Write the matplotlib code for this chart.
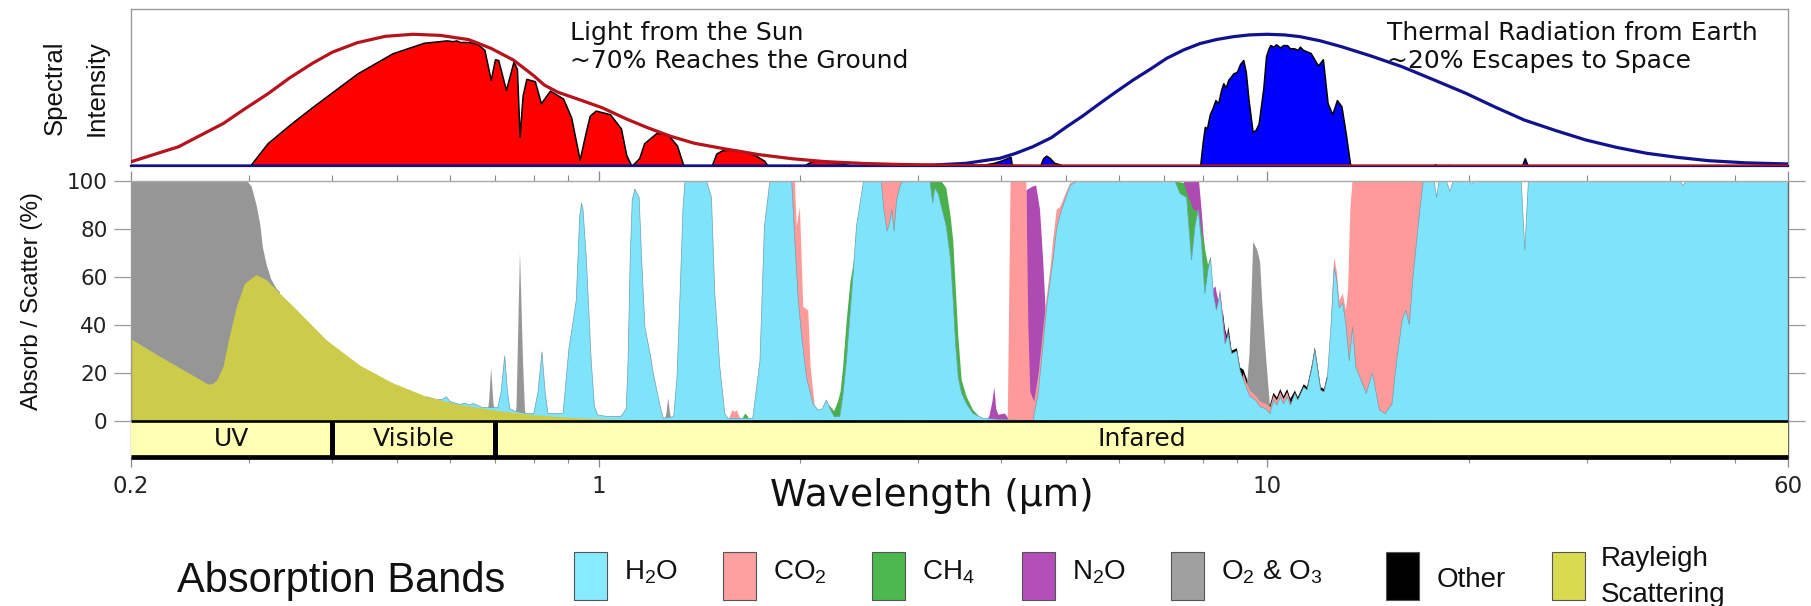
import numpy as np
import matplotlib
matplotlib.use("Agg")
import matplotlib.pyplot as plt
from matplotlib.patches import Rectangle
from matplotlib.ticker import NullFormatter, NullLocator
from matplotlib import font_manager

plt.rcParams['font.family'] = ['DejaVu Sans']

# ------------------------------------------------------------------ data
# Top panel: spectral intensity (normalised), wavelength in micrometres
sun_env_wl = [0.2, 0.2357, 0.25, 0.2746, 0.295, 0.3204, 0.345, 0.3735, 0.40, 0.4355, 0.48,
              0.5278, 0.58, 0.6396, 0.69, 0.7458, 0.80, 0.83, 0.8694, 0.94, 1.014, 1.10,
              1.182, 1.28, 1.39, 1.55, 1.74, 1.95, 2.18, 2.5, 2.8, 3.5, 4.5, 60]
sun_env = [0.027, 0.123, 0.18, 0.27, 0.36, 0.46, 0.56, 0.654, 0.725, 0.785, 0.826,
           0.839, 0.832, 0.805, 0.75, 0.675, 0.575, 0.515, 0.47, 0.42, 0.37, 0.30,
           0.245, 0.19, 0.145, 0.108, 0.072, 0.046, 0.028, 0.016, 0.01, 0.003, 0.0, 0.0]

earth_env_wl = [0.2, 2.5, 3.16, 3.54, 3.98, 4.2, 4.46, 4.75, 5.01, 5.3, 5.62, 5.95, 6.30, 6.7,
                7.07, 7.5, 7.93, 8.4, 8.9, 9.4, 9.98, 10.6, 11.18, 12.0, 12.9, 14.3, 15.9,
                17.7, 19.8, 21.9, 24.2, 27.0, 29.9, 33.3, 36.9, 41.0, 45.6, 52.0, 60]
earth_env = [0.0, 0.0, 0.006, 0.017, 0.049, 0.08, 0.123, 0.18, 0.25, 0.32, 0.40, 0.475, 0.548,
             0.62, 0.686, 0.74, 0.78, 0.806, 0.824, 0.835, 0.839, 0.835, 0.824, 0.797, 0.76,
             0.70, 0.632, 0.55, 0.463, 0.375, 0.293, 0.225, 0.166, 0.118, 0.081, 0.055,
             0.034, 0.02, 0.013]

sun_ground_wl = [0.301, 0.32, 0.347, 0.374, 0.436, 0.492, 0.548, 0.593, 0.605, 0.613, 0.62,
                 0.64, 0.66, 0.675, 0.69, 0.70, 0.708, 0.727, 0.746, 0.755, 0.762, 0.770,
                 0.78, 0.803, 0.82, 0.846, 0.885, 0.91, 0.937, 0.955, 0.97, 0.99, 1.04, 1.08,
                 1.10, 1.12, 1.15, 1.17, 1.22, 1.27, 1.31, 1.34]
sun_ground = [0, 0.145, 0.27, 0.378, 0.59, 0.718, 0.785, 0.80, 0.795, 0.80, 0.79,
              0.79, 0.775, 0.74, 0.548, 0.68, 0.675, 0.484, 0.664, 0.62, 0.187, 0.45,
              0.555, 0.54, 0.40, 0.48, 0.43, 0.31, 0.04, 0.20, 0.32, 0.353, 0.33, 0.24,
              0.07, 0.0, 0.05, 0.145, 0.21, 0.20, 0.13, 0.0]
sun_ground2_wl = [1.475, 1.50, 1.53, 1.58, 1.62, 1.66, 1.72, 1.77, 1.79]
sun_ground2 = [0, 0.08, 0.10, 0.105, 0.10, 0.09, 0.065, 0.033, 0.0]
sun_ground3_wl = [2.02, 2.06, 2.1, 2.12, 2.2, 2.3, 2.4]
sun_ground3 = [0, 0.02, 0.033, 0.036, 0.032, 0.018, 0.0]

earth_space_wl = [7.93, 8.0, 8.06, 8.12, 8.2, 8.28, 8.36, 8.44, 8.52, 8.59, 8.66, 8.74, 8.82,
                  8.89, 9.0, 9.1, 9.2, 9.28, 9.37, 9.5, 9.6, 9.7, 9.86, 9.95, 10.04, 10.1,
                  10.2, 10.3, 10.45, 10.55, 10.7, 10.8, 10.95, 11.1, 11.18, 11.3, 11.6, 11.9,
                  12.1, 12.3, 12.5, 12.7, 12.9, 13.1, 13.3]
earth_space = [0, 0.15, 0.25, 0.24, 0.33, 0.37, 0.42, 0.40, 0.48, 0.527, 0.50, 0.55, 0.57,
               0.59, 0.60, 0.65, 0.675, 0.60, 0.42, 0.218, 0.23, 0.27, 0.50, 0.70, 0.75, 0.77,
               0.76, 0.775, 0.755, 0.77, 0.77, 0.75, 0.75, 0.74, 0.76, 0.74, 0.72, 0.64,
               0.68, 0.40, 0.33, 0.42, 0.38, 0.20, 0.0]
earth_space2_wl = [3.62, 3.7, 3.8, 3.9, 4.0, 4.08, 4.13, 4.15]
earth_space2 = [0, 0.005, 0.012, 0.02, 0.035, 0.05, 0.058, 0.0]
earth_space3_wl = [4.57, 4.62, 4.67, 4.73, 4.8, 4.9, 4.95]
earth_space3 = [0, 0.05, 0.066, 0.05, 0.02, 0.01, 0.0]
earth_space4_wl = [17.7, 17.8, 17.9, 18.6, 18.7, 18.8, 24.0, 24.25, 24.5]
earth_space4 = [0, 0.012, 0, 0, 0.008, 0, 0, 0.05, 0]

# Bottom panel: cumulative absorption / scattering (%) -- each list is the top of the
# stack up to and including that constituent
ray_wl = [0.200, 0.221, 0.242, 0.254, 0.261, 0.265, 0.269, 0.275, 0.281, 0.288, 0.296, 0.308,
          0.319, 0.334, 0.350, 0.392, 0.440, 0.493, 0.553, 0.621, 0.712, 0.800, 0.900, 1.000,
          1.200]
ray_pct = [34, 26.7, 20.4, 17, 15, 15.3, 16.7, 22.5, 35, 47.5, 57, 60.7,
           58.6, 53, 47.5, 33.6, 23, 15.6, 10, 6.5, 4, 2.3, 1.3, 0.6, 0]

h2o_wl = [0.553, 0.575, 0.585, 0.592, 0.60, 0.621, 0.63, 0.64, 0.65, 0.67, 0.69, 0.707, 0.715,
          0.724, 0.731, 0.737, 0.75, 0.765, 0.78, 0.80, 0.812, 0.823, 0.832, 0.84, 0.885,
          0.903, 0.913, 0.926, 0.937, 0.943, 0.948, 0.959, 0.975, 0.986, 0.997, 1.03, 1.08,
          1.10, 1.107, 1.115, 1.123, 1.133, 1.15, 1.16, 1.173, 1.194, 1.207, 1.236, 1.25,
          1.295, 1.31, 1.324, 1.337, 1.347, 1.45, 1.475, 1.492, 1.518, 1.544, 1.561, 1.70,
          1.743, 1.77, 1.804, 1.944, 1.966, 1.989, 2.011, 2.046, 2.093, 2.13, 2.16, 2.19,
          2.22, 2.25, 2.294, 2.32, 2.347, 2.39, 2.43, 2.49, 2.645, 2.67, 2.70, 2.72, 2.745,
          2.765, 2.79, 2.822, 2.85, 3.128, 3.16, 3.18, 3.22, 3.25, 3.31, 3.36, 3.39, 3.42,
          3.45, 3.49, 3.55, 3.63, 3.76, 4.0, 4.42, 4.46, 4.54, 4.62, 4.67, 4.73, 4.78, 4.84,
          4.90, 4.98, 5.07, 5.2, 7.27, 7.40, 7.57, 7.70, 7.79, 7.88, 7.97, 8.06, 8.15, 8.22,
          8.30, 8.39, 8.49, 8.57, 8.64, 8.74, 8.84, 9.0, 9.1, 9.21, 9.32, 9.42, 9.6, 9.75,
          9.94, 10.09, 10.21, 10.33, 10.45, 10.57, 10.70, 10.82, 10.99, 11.1, 11.33, 11.46,
          11.66, 11.77, 11.87, 12.01, 12.15, 12.29, 12.44, 12.58, 12.70, 12.80, 12.96, 13.1,
          13.25, 13.4, 13.55, 13.75, 14.05, 14.35, 14.7, 15.0, 15.35, 15.6, 15.9, 16.1, 16.3,
          16.5, 16.7, 16.9, 17.1, 17.75, 17.9, 18.05, 18.5, 18.74, 18.95, 20.0, 20.2, 20.4,
          23.95, 24.25, 24.55, 41.3, 41.8, 42.3, 60]
h2o_pct = [10, 8.7, 9, 10, 8, 6.8, 7.4, 6.6, 7.2, 5.5, 5.5, 5.5, 12,
           27, 12, 5, 4, 3.5, 3, 3, 12, 28.7, 12, 3, 3,
           30, 38.6, 50, 85, 90.6, 88, 67, 25, 6, 2.4, 1.8, 1.8,
           5, 25, 67, 92, 96.5, 93, 67, 39, 28, 20, 6, 1,
           1.7, 18, 53, 88, 100, 100, 93, 53, 22.5, 3, 1, 1,
           25, 81, 100, 100, 74, 50, 36, 18, 7, 4.4, 5, 8.6,
           5, 1.7, 1.7, 11, 25, 53, 81, 100, 100, 88, 79, 82, 88,
           79, 92, 97.5, 100, 100, 90.6, 97, 94.7, 90, 81, 67, 50, 31,
           18, 11.4, 7, 3, 1, 0.5, 0, 0, 11, 32, 46, 58, 67, 80,
           86, 92, 98, 100, 100, 94.7, 93, 67, 81, 88, 74, 53, 63, 68,
           53, 46, 53, 43, 32, 36, 28, 29, 21, 17, 13, 10, 8.6, 5.8,
           5, 3, 8.6, 6.5, 10, 7, 10, 6.5, 11.4, 8.6, 14, 12.8,
           22.5, 29.4, 22.5, 12.8, 12, 18, 39, 64, 58, 47, 49, 40,
           25, 39, 22.5, 18, 11.4, 20, 4.4, 3, 7, 25, 42, 46, 40,
           60, 74, 88, 100, 100, 93, 100, 100, 95.5, 100, 100, 98.5, 100,
           100, 71, 100, 100, 98, 100, 100]

co2_a_wl = [1.565, 1.570, 1.585, 1.600, 1.610, 1.625, 1.630]
co2_a_pct = [0, 1.5, 4.4, 3.7, 4.4, 1.5, 0]
co2_b_wl = [1.930, 1.966, 1.978, 2.000, 2.023, 2.058, 2.075, 2.105, 2.130, 2.150]
co2_b_pct = [100, 100, 81, 89, 47.5, 46, 22.5, 6, 4.4, 0]
co2_c_wl = [2.62, 2.88]
co2_c_pct = [100, 100]
co2_d_wl = [4.09, 4.13, 4.36, 4.39, 4.42, 4.48, 4.55, 4.62, 4.67, 4.73, 4.78, 4.84, 4.90,
            4.98, 5.07, 5.20, 5.30]
co2_d_pct = [0, 100, 100, 40, 12, 8, 20, 38, 50, 62, 75, 88, 89, 94, 99, 100, 100]
co2_e_wl = [9.15, 9.20, 9.30, 9.42, 9.60, 9.75, 9.94, 10.09, 10.21, 10.33, 10.45, 10.57,
            10.70, 10.82, 10.90]
co2_e_pct = [0, 20, 16, 12.5, 10.5, 8, 7, 5.5, 10.5, 8.5, 12, 9, 12, 8, 0]
co2_f_wl = [12.40, 12.44, 12.58, 12.70, 12.80, 12.96, 13.10, 13.20, 13.30, 13.40, 17.50, 17.60]
co2_f_pct = [0, 40, 68, 62, 50, 53, 46, 55, 88, 100, 100, 0]

ch4_a_wl = [1.635, 1.645, 1.657, 1.670, 1.684]
ch4_a_pct = [0, 1.5, 3, 2, 0]
ch4_b_wl = [2.16, 2.19, 2.22, 2.25, 2.28, 2.30, 2.32, 2.35, 2.38, 2.40, 2.42, 2.43]
ch4_b_pct = [0, 7, 6, 4, 8, 12, 22, 42, 58, 64, 70, 0]
ch4_c_wl = [3.10, 3.25, 3.31, 3.36, 3.39, 3.42, 3.45, 3.49, 3.55, 3.63, 3.70, 3.76]
ch4_c_pct = [100, 100, 97, 85, 75, 55, 35, 17, 10, 4.5, 2, 0]
ch4_d_wl = [7.20, 7.50, 7.60, 7.75, 7.88, 7.97, 8.06, 8.15, 8.22, 8.25]
ch4_d_pct = [100, 99, 94, 88, 87, 80, 72, 65, 68, 0]

n2o_a_wl = [3.80, 3.84, 3.88, 3.905, 3.93, 3.96, 4.05, 4.10, 4.11]
n2o_a_pct = [0, 2, 8, 14, 5, 2.5, 3, 1, 0]
n2o_b_wl = [4.35, 4.36, 4.45, 4.51, 4.57, 4.62, 4.66, 4.67]
n2o_b_pct = [0, 96, 97.5, 98, 88, 67, 46, 0]
n2o_c_wl = [7.50, 7.90, 7.97, 8.02, 8.06, 8.08]
n2o_c_pct = [100, 100, 88, 78, 72, 0]
n2o_d_wl = [8.30, 8.36, 8.40, 8.45, 8.49, 8.57, 8.64, 8.70, 8.74, 8.80]
n2o_d_pct = [55, 56, 53, 50, 55, 45, 37, 34, 38, 0]

o3_a_wl = [0.200, 0.298, 0.303, 0.308, 0.312, 0.315, 0.319, 0.324, 0.330, 0.334]
o3_a_pct = [100, 100, 97.5, 90, 82, 72, 65, 59, 55, 53.5]
o3_b_wl = [0.680, 0.686, 0.691, 0.696, 0.702]
o3_b_pct = [0, 8, 22, 8, 0]
o3_c_wl = [0.750, 0.754, 0.758, 0.763, 0.767, 0.771, 0.776, 0.780]
o3_c_pct = [0, 6, 35, 70, 48, 25, 5, 0]
o3_d_wl = [1.255, 1.263, 1.271, 1.279, 1.287]
o3_d_pct = [0, 3, 9.5, 3, 0]
o3_e_wl = [9.25, 9.32, 9.40, 9.46, 9.52, 9.58, 9.66, 9.75, 9.82, 9.90, 9.98, 10.06, 10.12]
o3_e_pct = [0, 15, 28, 50, 74.6, 73, 71, 66, 50, 35, 22, 10, 0]

other_wl = [8.55, 8.57, 8.64, 8.70, 8.74, 8.84, 9.00, 9.10, 9.21, 9.32, 9.42, 9.60, 9.75,
            9.94, 10.09, 10.21, 10.33, 10.45, 10.57, 10.70, 10.82, 10.99, 11.10, 11.33,
            11.46, 11.66, 11.77, 11.87, 12.01, 12.15, 12.29, 12.30]
other_pct = [0, 46.2, 38.2, 35.2, 39.2, 29.2, 30.2, 22.2, 21.2, 17.2, 13.7, 11.7, 9.2,
             8.2, 6.7, 11.7, 9.7, 13.2, 10.2, 13.2, 9.2, 12.6, 9.8, 15.2,
             14.0, 23.7, 30.6, 23.7, 14.0, 13.2, 19.2, 0]

band_edges = [0.2, 0.4, 0.7, 60]
band_labels = ['UV', 'Visible', 'Infared']

xtick_major = [0.2, 1, 10, 60]
xtick_labels = ['0.2', '1', '10', '60']
xtick_minor = [0.3, 0.4, 0.5, 0.6, 0.7, 0.8, 0.9, 2, 3, 4, 5, 6, 7, 8, 9, 20, 30, 40, 50]
ytick_vals = [0, 20, 40, 60, 80, 100]

legend_labels = [r'$\mathregular{H_2O}$', r'$\mathregular{CO_2}$', r'$\mathregular{CH_4}$',
                 r'$\mathregular{N_2O}$', r'$\mathregular{O_2}$ & $\mathregular{O_3}$', 'Other',
                 'Rayleigh\nScattering']
legend_colors = ['#86EBFF', '#FFA0A0', '#4DB84D', '#B44EB8', '#A0A0A0', '#000000', '#DADA50']

# ------------------------------------------------------------------ colours
C_H2O = '#7FE3FA'
C_CO2 = '#FF9A9A'
C_CH4 = '#4AB14A'
C_N2O = '#AE4BB2'
C_O3 = '#969696'
C_OTHER = '#000000'
C_RAY = '#CCCC4A'

# ------------------------------------------------------------------ figure
W, H = 1811, 606
fig = plt.figure(figsize=(W / 100, H / 100), dpi=100)
fig.patch.set_facecolor('white')


def fx(px):
    return px / W


def fy(py):
    return 1 - py / H


names = {f.name for f in font_manager.fontManager.ttflist}
if 'Liberation Sans Narrow' in names:
    LAB_FAM, LAB_SIZE, SPEC_SIZE = ['Liberation Sans Narrow'], 21, 21.5
else:
    LAB_FAM, LAB_SIZE, SPEC_SIZE = ['Liberation Sans', 'DejaVu Sans'], 17.5, 18.5
SANS = ['Liberation Sans', 'DejaVu Sans']

L, R = 131, 1788
ax_top = fig.add_axes([fx(L), fy(166), fx(R) - fx(L), fy(9) - fy(166)])
ax = fig.add_axes([fx(L), fy(457), fx(R) - fx(L), fy(180.7) - fy(457)])

# ---------------- top panel
ax_top.set_xscale('log')
ax_top.set_xlim(0.2, 60)
ax_top.set_ylim(0, 1)
ax_top.xaxis.set_major_locator(NullLocator())
ax_top.xaxis.set_minor_locator(NullLocator())
ax_top.yaxis.set_major_locator(NullLocator())
for s in ['top', 'left', 'right']:
    ax_top.spines[s].set_color('#9a9a9a')
    ax_top.spines[s].set_linewidth(1.0)
ax_top.spines['bottom'].set_color('#15156e')
ax_top.spines['bottom'].set_linewidth(1.6)

for wl, v in [(sun_ground_wl, sun_ground), (sun_ground2_wl, sun_ground2),
              (sun_ground3_wl, sun_ground3)]:
    ax_top.fill_between(wl, 0, v, facecolor='#FF0000', edgecolor='black', linewidth=1.1, zorder=2)
for wl, v in [(earth_space_wl, earth_space), (earth_space2_wl, earth_space2),
              (earth_space3_wl, earth_space3), (earth_space4_wl, earth_space4)]:
    ax_top.fill_between(wl, 0, v, facecolor='#0000FF', edgecolor='black', linewidth=1.1, zorder=2)
ax_top.plot(earth_env_wl, earth_env, color='#12128f', lw=2.3, zorder=3)
ax_top.plot(sun_env_wl, sun_env, color='#b5141c', lw=2.3, zorder=4)

ax_top.text(0.906, 0.758, "Light from the Sun\n~70% Reaches the Ground", ha='left', va='center',
            fontsize=18, linespacing=1.22, color='#111111')
ax_top.text(15.1, 0.758, "Thermal Radiation from Earth\n~20% Escapes to Space", ha='left',
            va='center', fontsize=18, linespacing=1.22, color='#111111')

# ---------------- bottom panel
ax.set_xscale('log')
ax.set_xlim(0.2, 60)
ax.set_ylim(-15.1, 100)
ax.set_facecolor('white')


def layer(segs, color, z):
    for wl, pct in segs:
        ax.fill_between(wl, 0, pct, facecolor=color, edgecolor='none', linewidth=0, zorder=z)


layer([(other_wl, other_pct)], C_OTHER, 1.1)
layer([(o3_a_wl, o3_a_pct), (o3_b_wl, o3_b_pct), (o3_c_wl, o3_c_pct), (o3_d_wl, o3_d_pct),
       (o3_e_wl, o3_e_pct)], C_O3, 1.2)
layer([(n2o_a_wl, n2o_a_pct), (n2o_b_wl, n2o_b_pct), (n2o_c_wl, n2o_c_pct),
       (n2o_d_wl, n2o_d_pct)], C_N2O, 1.3)
layer([(ch4_a_wl, ch4_a_pct), (ch4_b_wl, ch4_b_pct), (ch4_c_wl, ch4_c_pct),
       (ch4_d_wl, ch4_d_pct)], C_CH4, 1.4)
layer([(co2_a_wl, co2_a_pct), (co2_b_wl, co2_b_pct), (co2_c_wl, co2_c_pct),
       (co2_d_wl, co2_d_pct), (co2_e_wl, co2_e_pct), (co2_f_wl, co2_f_pct)], C_CO2, 1.5)
layer([(h2o_wl, h2o_pct)], C_H2O, 1.6)
layer([(ray_wl, ray_pct)], C_RAY, 1.7)
ax.plot(h2o_wl, h2o_pct, color='#6f9fae', lw=0.5, zorder=1.65)

# spectral band strip
for i, name in enumerate(band_labels):
    a, b = band_edges[i], band_edges[i + 1]
    ax.add_patch(Rectangle((a, -15.1), b - a, 15.1, facecolor='#FFFFB4', edgecolor='none',
                           zorder=3))
    ax.text(np.sqrt(a * b), -7.55, name, ha='center', va='center', fontsize=18,
            color='#111111', zorder=5)
ax.plot([band_edges[0], band_edges[-1]], [0, 0], color='black', lw=1.9, zorder=4,
        solid_capstyle='butt')
ax.plot([band_edges[0], band_edges[-1]], [-15.1, -15.1], color='black', lw=3.4, zorder=4,
        clip_on=False, solid_capstyle='butt')
for e in band_edges[1:-1]:
    ax.plot([e, e], [-15.1, 0], color='black', lw=3.6, zorder=4, solid_capstyle='butt')

# ticks
ax.set_xticks(xtick_major)
ax.set_xticklabels(xtick_labels)
ax.set_xticks(xtick_minor, minor=True)
ax.xaxis.set_minor_formatter(NullFormatter())
ax.tick_params(axis='x', which='both', top=True, bottom=True, direction='out',
               color='#8a8a8a', labelcolor='#222222')
ax.tick_params(axis='x', which='major', length=7, width=0.9, labelsize=16.5, pad=6)
ax.tick_params(axis='x', which='minor', length=4, width=0.8)
ax.set_yticks(ytick_vals)
ax.yaxis.set_minor_locator(NullLocator())
ax.tick_params(axis='y', which='major', left=True, right=True, direction='out', length=12,
               width=0.9, color='#9a9a9a', labelsize=15.5, labelcolor='#222222', pad=5)
ax.spines['bottom'].set_visible(False)
ax.spines['left'].set_color('#9a9a9a')
ax.spines['top'].set_color('#aaaaaa')
ax.spines['right'].set_color('#666666')
for s in ['left', 'top', 'right']:
    ax.spines[s].set_linewidth(1.0)

# axis labels
fig.text(fx(32), fy(300.7), 'Absorb / Scatter (%)', rotation=90, ha='center', va='center',
         fontsize=LAB_SIZE, family=LAB_FAM, color='#111111')
spec_px = SPEC_SIZE / 0.72
fig.text(fx(76), fy(88), 'Spectral\nIntensity', rotation=90, ha='center', va='center',
         multialignment='center', fontsize=SPEC_SIZE, family=LAB_FAM,
         linespacing=36 / (0.73 * spec_px), color='#111111')
fig.text(fx(932), fy(505.5), 'Wavelength (\u03bcm)', ha='center', va='baseline', fontsize=27,
         color='#111111')

# legend
fig.text(fx(177), fy(591.7), 'Absorption Bands', ha='left', va='baseline', fontsize=30,
         family=SANS, color='#111111')
legend_x = [574, 723, 872, 1022, 1171, 1386, 1552]
for x, lab, col in zip(legend_x, legend_labels, legend_colors):
    fig.add_artist(Rectangle((fx(x), fy(600)), 33 / W, 48 / H, transform=fig.transFigure,
                             facecolor=col, edgecolor='#555555', linewidth=0.8))
    if lab.startswith('$'):
        fig.text(fx(x + 50), fy(579), lab, ha='left', va='baseline', fontsize=20,
                 family=SANS, color='#111111')
    elif '\n' in lab:
        fig.text(fx(x + 49), fy(577), lab, ha='left', va='center', fontsize=20, family=SANS,
                 linespacing=1.48, color='#111111')
    else:
        fig.text(fx(x + 51), fy(587), lab, ha='left', va='baseline', fontsize=20,
                 family=SANS, color='#111111')

fig.savefig('out.png', dpi=100)
